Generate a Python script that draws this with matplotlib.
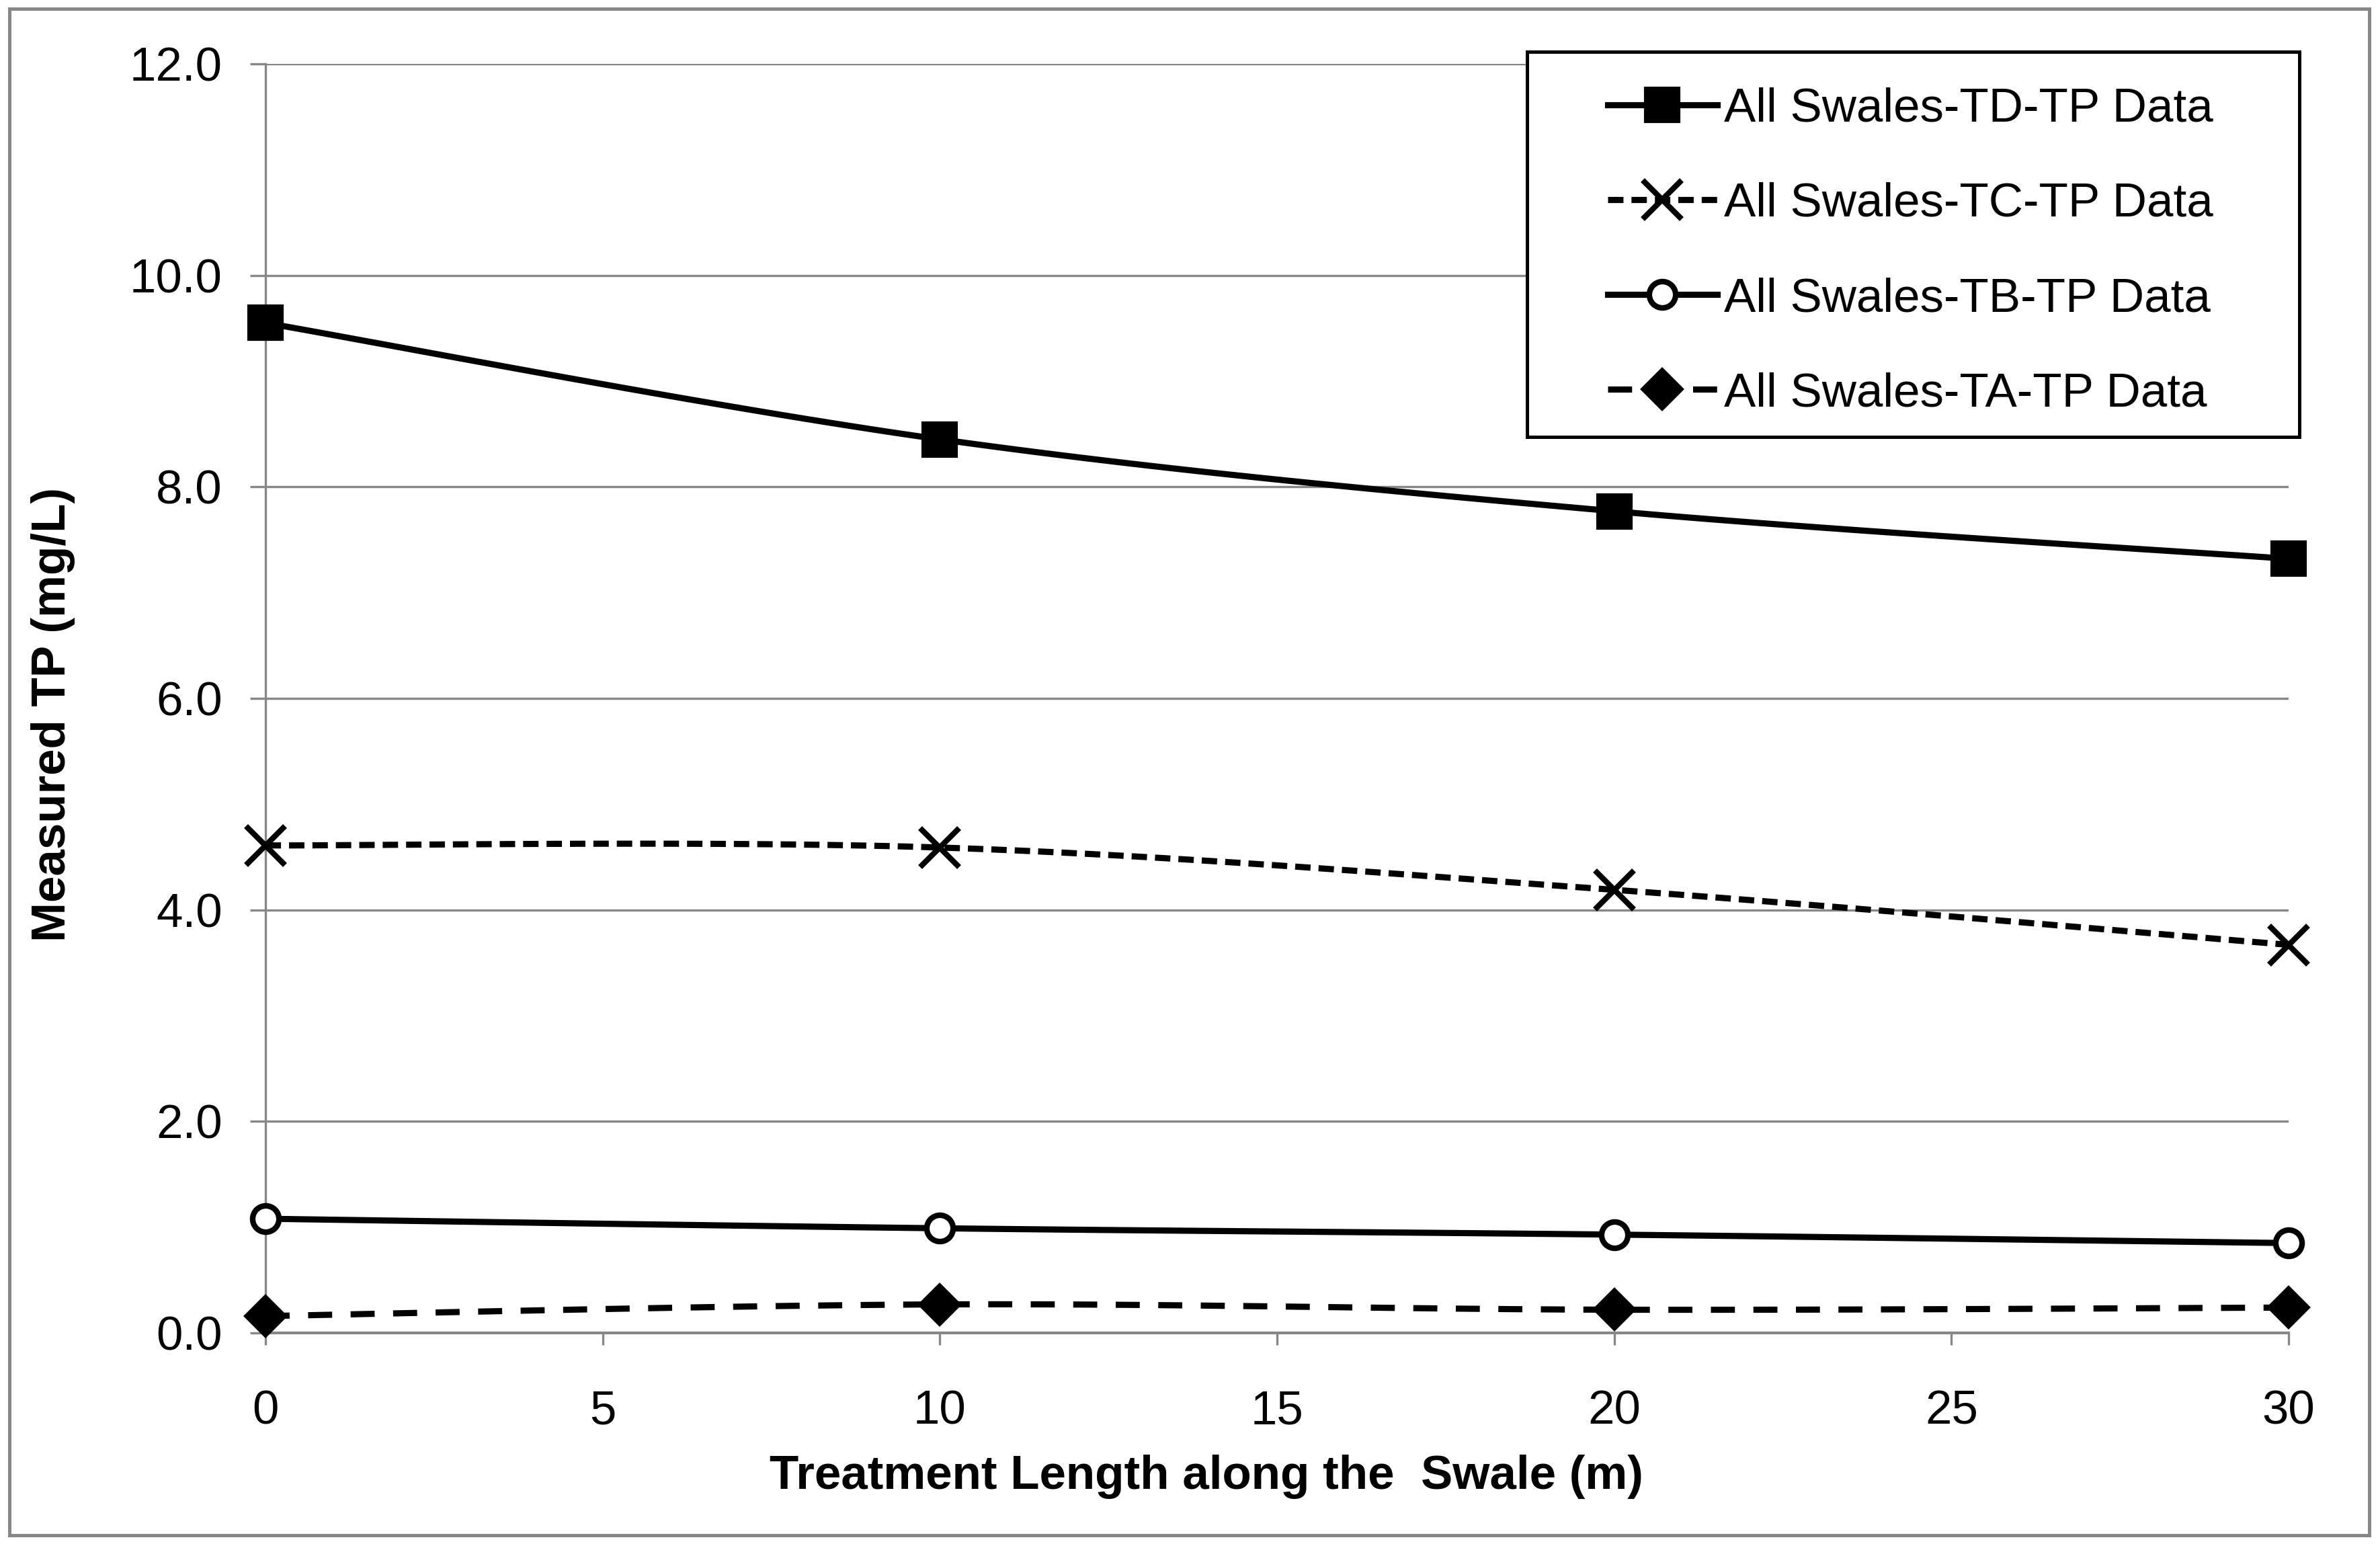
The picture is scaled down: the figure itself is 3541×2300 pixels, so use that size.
import numpy as np
import matplotlib
matplotlib.use("Agg")
import matplotlib.pyplot as plt
from matplotlib.lines import Line2D
from matplotlib.patches import Rectangle

plt.rcParams['font.family'] = ['Liberation Sans', 'DejaVu Sans']

# data
length_m = [0, 10, 20, 30]
td_tp = [9.55, 8.45, 7.77, 7.32]
tc_tp = [4.61, 4.59, 4.19, 3.67]
tb_tp = [1.08, 0.99, 0.93, 0.85]
ta_tp = [0.16, 0.27, 0.22, 0.24]
series_labels = ['All Swales-TD-TP Data', 'All Swales-TC-TP Data',
                 'All Swales-TB-TP Data', 'All Swales-TA-TP Data']
y_ticks = [0, 2, 4, 6, 8, 10, 12]
x_ticks = [0, 5, 10, 15, 20, 25, 30]

FS = 17
GRAY = '#878787'


def smooth(x, y, n=40):
    # excel-like smoothed line (bezier through the points)
    p = np.column_stack([x, y]).astype(float)
    out = [p[0]]
    for i in range(len(p) - 1):
        p0 = p[i - 1] if i > 0 else p[i]
        p3 = p[i + 2] if i + 2 < len(p) else p[i + 1]
        c1 = p[i] + (p[i + 1] - p0) / 6.0
        c2 = p[i + 1] - (p3 - p[i]) / 6.0
        t = np.linspace(0, 1, n)[1:, None]
        seg = ((1 - t) ** 3) * p[i] + 3 * ((1 - t) ** 2) * t * c1 \
            + 3 * (1 - t) * t ** 2 * c2 + t ** 3 * p[i + 1]
        out.extend(seg)
    out = np.array(out)
    return out[:, 0], out[:, 1]


styles = [
    dict(ls='-', marker='s', ms=11.8, mfc='black', mew=1),
    dict(ls=(0, (2.5, 1.3)), marker='x', ms=14, mfc='none', mew=2),
    dict(ls='-', marker='o', ms=9.4, mfc='white', mew=2),
    dict(ls=(0, (3.9, 3.0)), marker='D', ms=10.3, mfc='black', mew=1),
]
series = [td_tp, tc_tp, tb_tp, ta_tp]
LW = 2.2

fig = plt.figure(figsize=(3541 / 300, 2300 / 300), dpi=300)
ax = fig.add_axes([0.1116, 0.1378, 0.85, 0.8209])

handles = []
for vals, st, lab in zip(series, styles, series_labels):
    sx, sy = smooth(length_m, vals)
    ax.plot(sx, sy, color='black', lw=LW, ls=st['ls'], zorder=3)
    ax.plot(length_m, vals, ls='none', marker=st['marker'], ms=st['ms'],
            mfc=st['mfc'], mec='black', mew=st['mew'], zorder=4, clip_on=False)
    handles.append(Line2D([], [], color='black', lw=LW, ls=st['ls'],
                          marker=st['marker'], ms=st['ms'], mfc=st['mfc'],
                          mec='black', mew=st['mew']))

ax.set_xlim(0, 30)
ax.set_ylim(0, 12)
ax.set_xticks(x_ticks)
ax.set_yticks(y_ticks)
ax.set_yticklabels([f'{v:.1f}' for v in y_ticks])
ax.yaxis.grid(True, color=GRAY, lw=0.8)
ax.set_axisbelow(True)
for s in ['top', 'right']:
    ax.spines[s].set_visible(False)
ax.spines['left'].set_color(GRAY)
ax.spines['left'].set_linewidth(0.8)
ax.spines['bottom'].set_color(GRAY)
ax.spines['bottom'].set_linewidth(1.0)
ax.tick_params(axis='y', length=5.5, width=0.8, color=GRAY, pad=10, labelsize=FS)
ax.tick_params(axis='x', length=4.3, width=0.8, color=GRAY, pad=16, labelsize=FS)

fig.text(0.507, 1 - 2197 / 2300, 'Treatment Length along the  Swale (m)',
         ha='center', va='center', fontsize=FS, fontweight='bold')
fig.text(79 / 3541, 0.5378, 'Measured TP (mg/L)', rotation=90,
         ha='center', va='center', fontsize=FS, fontweight='bold')

# legend box
lx, ly, lw_, lh = 2272 / 3541, 1 - 650 / 2300, (3421 - 2272) / 3541, (650 - 77) / 2300
fig.patches.append(Rectangle((lx, ly), lw_, lh, transform=fig.transFigure,
                             fill=True, facecolor='white', edgecolor='black',
                             lw=1.2, zorder=5))
leg = fig.legend(handles, series_labels, loc='center',
                 bbox_to_anchor=(lx + lw_ / 2 - 4 / 3541, ly + lh / 2 - 11 / 2300),
                 frameon=False, fontsize=FS, handlelength=2.3,
                 handletextpad=0.15, labelspacing=1.06)
leg.set_zorder(6)

# outer chart border
fig.patches.append(Rectangle((14 / 3541, 16 / 2300), 3511 / 3541, 2271 / 2300,
                             transform=fig.transFigure, fill=False,
                             edgecolor=GRAY, lw=1.2))

fig.savefig('out.png', dpi=300, facecolor='white')
